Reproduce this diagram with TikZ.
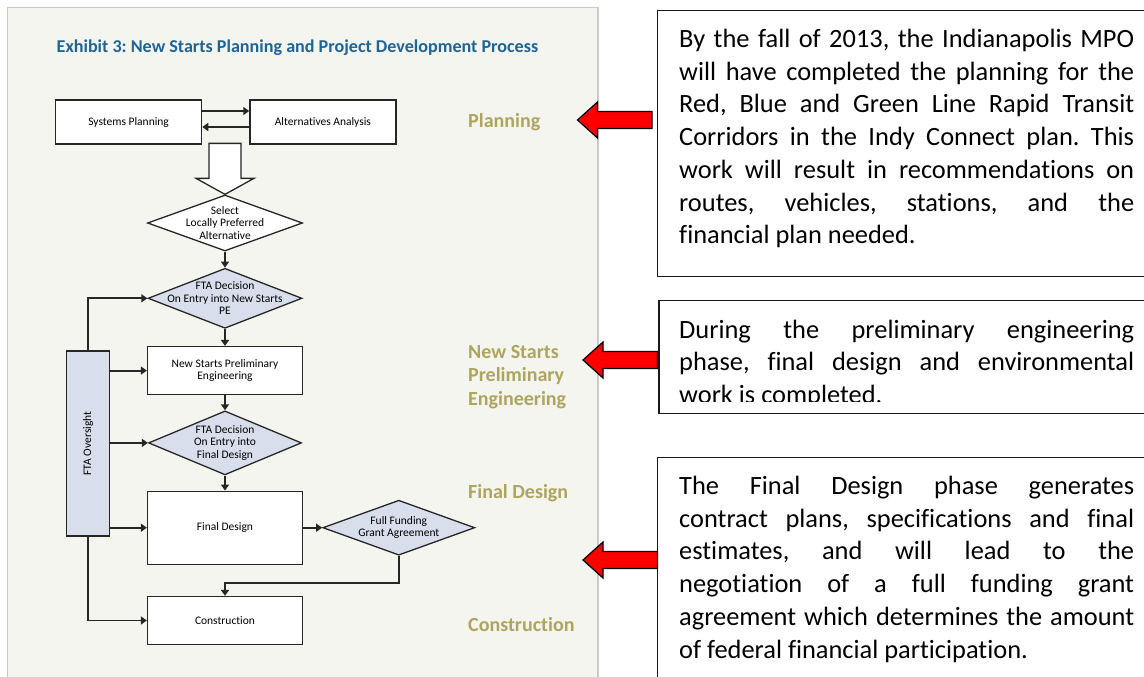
\documentclass[tikz,border=0pt]{standalone}
\usepackage{fontspec}
\setmainfont{Carlito}[Ligatures={NoCommon}]
\usepackage{tikz}
\usetikzlibrary{arrows.meta,positioning,shapes.geometric}

\definecolor{panelbg}{RGB}{245,245,240}
\definecolor{panelrule}{RGB}{200,200,200}
\definecolor{titleblue}{RGB}{30,100,150}
\definecolor{phaseolive}{RGB}{173,165,95}
\definecolor{ftablue}{RGB}{217,222,236}

% red block arrow, tip at (#1,#2)
\newcommand\pointer[2]{%
  \draw[redarr] (#1,#2) -- ++(20,-18) -- ++(0,9.5) -- ++(54.5,0) -- ++(0,17)
    -- ++(-54.5,0) -- ++(0,9.5) -- cycle;}

\frenchspacing
\begin{document}
\begin{tikzpicture}[
  x=1pt, y=-1pt,
  node distance=16pt and 19pt,
  stepbox/.style={rectangle, draw=black!85, line width=1.3pt, fill=white, align=center,
              inner sep=0pt, font=\fontsize{11.5}{12.5}\selectfont, minimum width=155pt},
  decide/.style={diamond, draw=black!85, line width=1.3pt, fill=ftablue, inner sep=0pt,
              label={[align=center, font=\fontsize{11.5}{12.5}\selectfont]center:#1}},
  phase/.style={anchor=base west, inner sep=0pt, align=left, text=phaseolive,
              font=\fontsize{20}{23.3}\selectfont\bfseries},
  notebox/.style={draw=black!90, line width=1.4pt, fill=white},
  note/.style={anchor=north west, inner sep=0pt, text width=455pt, align=justify,
              font=\fontsize{26.4}{32.7}\selectfont},
  redarr/.style={draw=black, line width=1.2pt, fill=red, line join=miter},
  flow/.style={-{Triangle[length=6pt,width=8pt]}, draw=black!85, line width=1.8pt},
  hollow/.style={draw=black!85, line width=1.3pt, fill=white, line join=miter}
]
\clip (0,0) rectangle (1144,677);

% exhibit panel
\draw[panelrule, fill=panelbg, line width=1.5pt] (7.7,7.3) rectangle (598,700);
\node[anchor=base west, inner sep=0pt, text=titleblue, font=\fontsize{18.1}{20}\selectfont\bfseries]
  (title) at (56.5,52.3) {Exhibit 3: New Starts Planning and Project Development Process};

% process chart
\node[stepbox, minimum width=146pt, minimum height=44pt] (sysplan) at (128.6,122) {Systems Planning};
\node[stepbox, minimum width=146pt, minimum height=44pt, right=47pt of sysplan] (altana) {Alternatives Analysis};
\node[decide={Select\\Locally Preferred\\Alternative}, fill=white,
      minimum width=155pt, minimum height=56pt] (lpa) at (225,223) {};
\node[decide={FTA Decision\\On Entry into New Starts\\PE},
      minimum width=154pt, minimum height=60pt, below=of lpa] (ftape) {};
\node[stepbox, minimum height=48pt, below=17pt of ftape] (nspe) {New Starts Preliminary\\Engineering};
\node[decide={FTA Decision\\On Entry into\\Final Design},
      minimum width=153pt, minimum height=64pt, below=15pt of nspe] (ftafd) {};
\node[stepbox, minimum height=73pt, below=15pt of ftafd] (fdes) {Final Design};
\node[decide={Full Funding\\Grant Agreement},
      minimum width=152pt, minimum height=55pt, right=of fdes] (ffga) {};
\node[stepbox, minimum height=48pt, below=31pt of fdes] (constr) {Construction};
\node[stepbox, fill=ftablue, minimum width=43pt, minimum height=185pt] (over) at (88,443.5)
  {\rotatebox{90}{FTA Oversight}};

\draw[flow] ([yshift=11pt]sysplan.east) -- ([yshift=11pt]altana.west);
\draw[flow] ([yshift=-5pt]altana.west) -- ([yshift=-5pt]sysplan.east);
\draw[hollow] (lpa.north) -- ++(-29,-16) -- ++(13,0) -- ++(0,-35) -- ++(32,0)
  -- ++(0,35) -- ++(13,0) -- cycle;
\draw[flow] (lpa) -- (ftape);
\draw[flow] (ftape) -- (nspe);
\draw[flow] (nspe) -- (ftafd);
\draw[flow] (ftafd) -- (fdes);
\draw[flow] (fdes) -- (ffga);
\draw[flow] (ffga.south) -- ++(0,27) -| (constr.north);
\draw[flow] (over.north) |- (ftape.west);
\draw[flow] (over.east |- nspe.west) -- (nspe.west);
\draw[flow] (over.east |- ftafd.west) -- (ftafd.west);
\draw[flow] (over.east |- fdes.west) -- (fdes.west);
\draw[flow] (over.south) |- (constr.west);

% phase names
\node[phase] (plan) at (468,127) {Planning};
\node[phase] (prelim) at (468,405) {New Starts\\Preliminary\\Engineering};
\node[phase] (final) at (468,498) {Final Design};
\node[phase] (build) at (468,631.7) {Construction};

% notes
\draw[notebox] (657.6,10.8) rectangle (1160,276.7);
\draw[notebox] (659,300.7) rectangle (1160,413.5);
\draw[notebox] (657.6,457.5) rectangle (1160,700);
\node[note] (plannote) at (679,29) {By the fall of 2013, the Indianapolis MPO\linebreak
  will have completed the planning for the\linebreak
  Red, Blue and Green Line Rapid Transit\linebreak
  Corridors in the Indy Connect plan. This\linebreak
  work will result in recommendations on\linebreak
  routes, vehicles, stations, and the\linebreak
  financial plan needed.};
\begin{scope}
  \clip (660,301) rectangle (1144,401.5);
  \node[note] (penote) at (679,319.5) {During the preliminary engineering\linebreak
    phase, final design and environmental\linebreak
    work is completed.};
\end{scope}
\node[note] (fdnote) at (679,476) {The Final Design phase generates\linebreak
  contract plans, specifications and final\linebreak
  estimates, and will lead to the\linebreak
  negotiation of a full funding grant\linebreak
  agreement which determines the amount\linebreak
  of federal financial participation.};

\pointer{577.5}{120}
\pointer{583}{360}
\pointer{583}{560}
\end{tikzpicture}
\end{document}
